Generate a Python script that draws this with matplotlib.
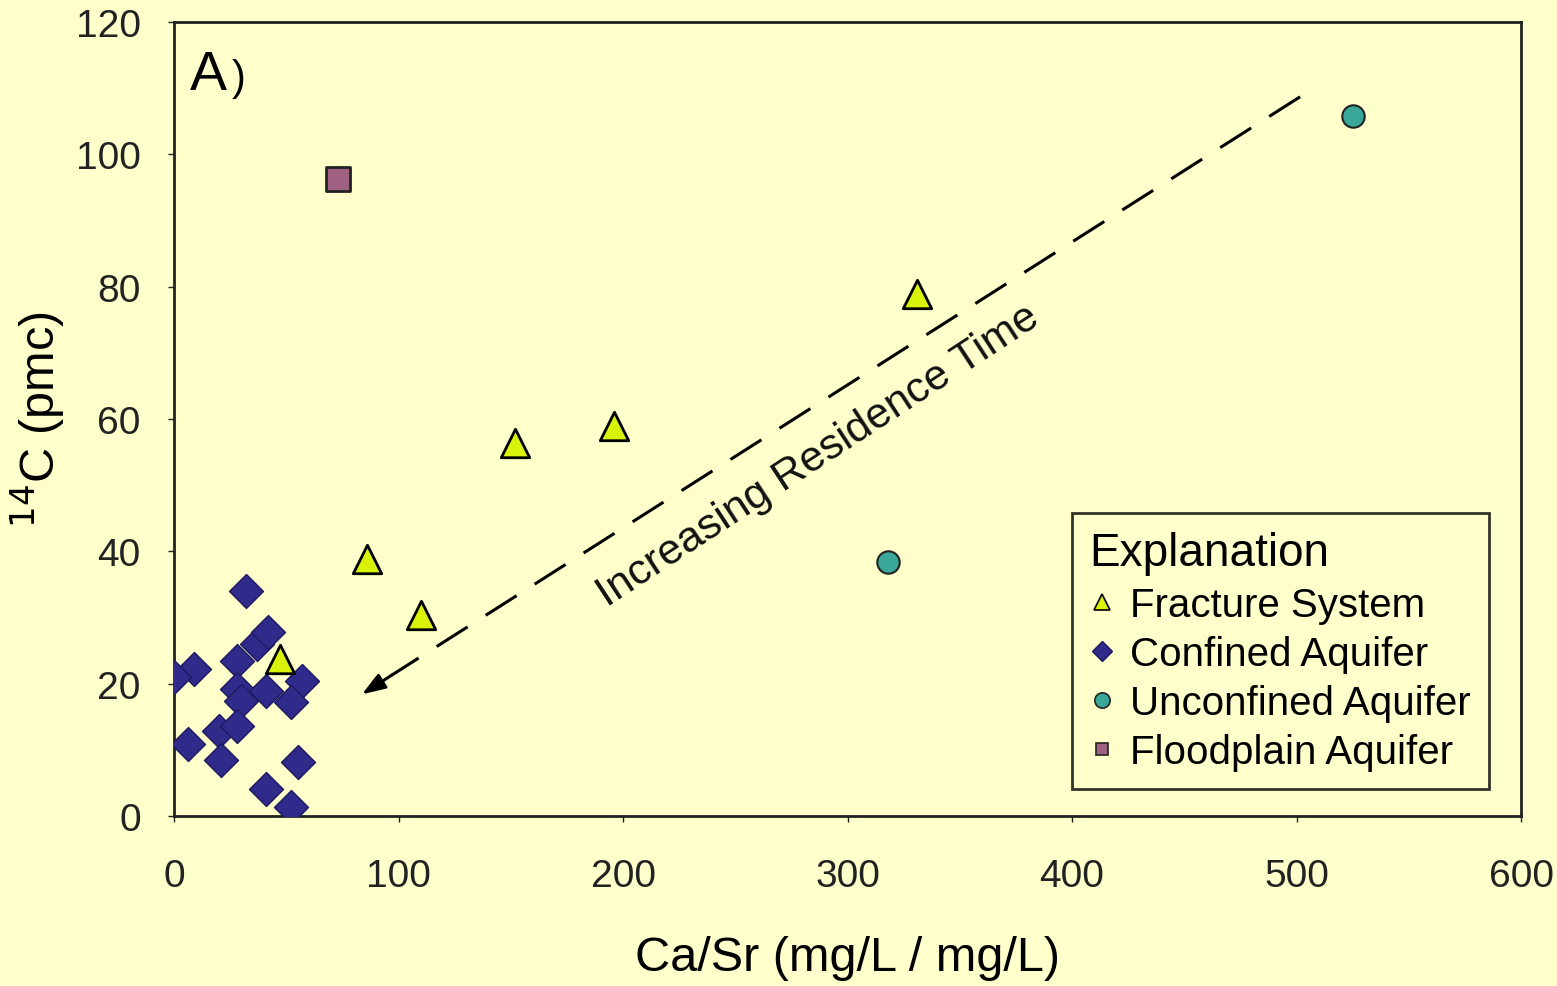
import matplotlib.pyplot as plt
from matplotlib.lines import Line2D

plt.rcParams['font.family'] = ['Liberation Sans', 'DejaVu Sans']

# Ca/Sr ratio and 14C (pmc) per group
fracture_x = [47, 86, 110, 152, 196, 331]
fracture_y = [23.7, 38.8, 30.4, 56.4, 58.9, 78.9]

confined_x = [32, 37, 42, 28, 9, 0, 28, 30, 41, 57, 52, 20, 28, 6, 21, 55, 41, 52]
confined_y = [34.0, 26.0, 27.8, 23.5, 22.2, 21.0, 19.2, 17.4, 18.9, 20.4, 17.2, 12.9, 13.6, 10.9, 8.4, 8.1, 4.1, 1.3]

unconfined_x = [525, 318]
unconfined_y = [105.8, 38.4]

floodplain_x = [73]
floodplain_y = [96.3]

bg = '#FFFFCC'
fig = plt.figure(figsize=(15.57, 9.87), dpi=100, facecolor=bg)
ax = fig.add_axes([0.1118, 0.1722, 0.8651, 0.8045], facecolor=bg)

ax.scatter(confined_x, confined_y, marker='D', s=300, c='#302A8A',
           edgecolors='#1E1A60', linewidths=1, zorder=3)
ax.scatter(fracture_x, fracture_y, marker='^', s=420, c='#D8F20A',
           edgecolors='black', linewidths=2, zorder=4)
ax.scatter(unconfined_x, unconfined_y, marker='o', s=260, c='#3AA898',
           edgecolors='#222222', linewidths=1.5, zorder=3)
ax.scatter(floodplain_x, floodplain_y, marker='s', s=280, c='#A06282',
           edgecolors='#222222', linewidths=2, zorder=3)

# dashed arrow towards older water
ax.plot([501.6, 97], [108.7, 21.3], color='black', lw=2.2,
        dashes=(12, 7), zorder=2)
ax.annotate('', xy=(83.7, 18.4), xytext=(97, 21.3),
            arrowprops=dict(arrowstyle='-|>,head_length=1.4,head_width=0.5',
                            color='black', lw=2.2, shrinkA=0, shrinkB=0))
ax.text(287, 54.5, 'Increasing Residence Time', rotation=33.2,
        rotation_mode='anchor', ha='center', va='center',
        fontsize=31, color='#111111')

ax.text(7, 112, 'A', fontsize=40, ha='left', va='center')
ax.text(25.5, 111.5, ')', fontsize=30, ha='left', va='center')

ax.set_xlim(0, 600)
ax.set_ylim(0, 120)
ax.set_xticks(range(0, 601, 100))
ax.set_yticks(range(0, 121, 20))
ax.tick_params(labelsize=28, colors='#222222', length=4, width=1,
               direction='out')
ax.tick_params(axis='x', pad=26)
ax.tick_params(axis='y', pad=20)
for sp in ax.spines.values():
    sp.set_linewidth(2)
    sp.set_color('#222222')

ax.set_xlabel('Ca/Sr (mg/L / mg/L)', fontsize=35, labelpad=30)
ax.set_ylabel('$^{14}$C (pmc)', fontsize=35, labelpad=6)

handles = [
    Line2D([], [], ls='none', marker='^', ms=12, mfc='#D8F20A', mec='black', mew=1.2),
    Line2D([], [], ls='none', marker='D', ms=10, mfc='#302A8A', mec='#1E1A60'),
    Line2D([], [], ls='none', marker='o', ms=11, mfc='#3AA898', mec='#222222', mew=1.2),
    Line2D([], [], ls='none', marker='s', ms=9, mfc='#A06282', mec='#222222', mew=1.2),
]
labels = ['Fracture System', 'Confined Aquifer', 'Unconfined Aquifer', 'Floodplain Aquifer']
leg = ax.legend(handles, labels, title='Explanation', loc='lower right',
                bbox_to_anchor=(0.976, 0.034), fontsize=29, title_fontsize=33,
                frameon=True, fancybox=False, facecolor=bg, edgecolor='black',
                handlelength=0.6, handletextpad=0.4, labelspacing=0.27,
                borderpad=0.45, borderaxespad=0, alignment='left')
leg.get_frame().set_linewidth(2)

fig.savefig('out.png', dpi=100, facecolor=bg)
